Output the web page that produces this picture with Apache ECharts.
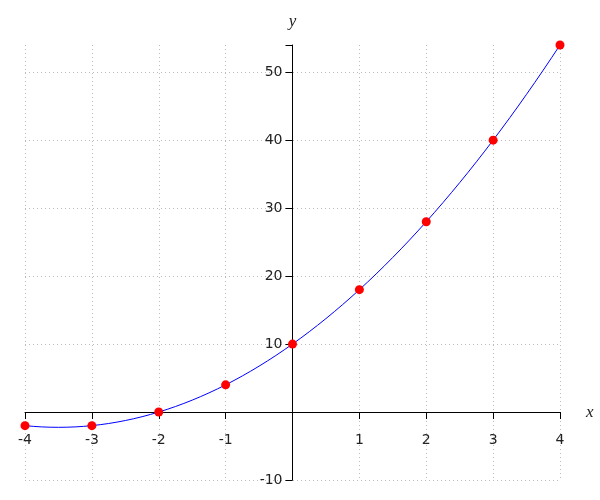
<!DOCTYPE html>
<html>
<head>
<meta charset="utf-8">
<script src="https://cdn.jsdelivr.net/npm/echarts@6/dist/echarts.min.js"></script>
<style>html,body{margin:0;padding:0;background:#fff}#c{width:600px;height:500px}</style>
</head>
<body>
<div id="c"></div>
<script>
var xValues = [-4, -3, -2, -1, 0, 1, 2, 3, 4];
var yValues = [-2, -2, 0, 4, 10, 18, 28, 40, 54];
var xTickLabels = [-4, -3, -2, -1, 1, 2, 3, 4];
var yTickLabels = [-10, 10, 20, 30, 40, 50];

var pts = xValues.map(function (x, i) { return [x, yValues[i]]; });

function curvePath(api) {
  var p = pts.map(function (d) { return api.coord(d); });
  var n = p.length;
  var t = [];
  for (var i = 0; i < n; i++) {
    var tx, ty;
    if (i === 0) { tx = (-3 * p[0][0] + 4 * p[1][0] - p[2][0]) / 2; ty = (-3 * p[0][1] + 4 * p[1][1] - p[2][1]) / 2; }
    else if (i === n - 1) { tx = (3 * p[n-1][0] - 4 * p[n-2][0] + p[n-3][0]) / 2; ty = (3 * p[n-1][1] - 4 * p[n-2][1] + p[n-3][1]) / 2; }
    else { tx = (p[i+1][0] - p[i-1][0]) / 2; ty = (p[i+1][1] - p[i-1][1]) / 2; }
    t.push([tx, ty]);
  }
  var d = 'M' + p[0][0] + ' ' + p[0][1];
  for (var j = 0; j < n - 1; j++) {
    d += ' C' + (p[j][0] + t[j][0] / 3) + ' ' + (p[j][1] + t[j][1] / 3) + ' ' +
         (p[j+1][0] - t[j+1][0] / 3) + ' ' + (p[j+1][1] - t[j+1][1] / 3) + ' ' +
         p[j+1][0] + ' ' + p[j+1][1];
  }
  return d;
}

function fmt(list) {
  return function (v) { return list.indexOf(v) >= 0 ? String(v) : ''; };
}

var GRID = {left: 25, right: 40, top: 45, bottom: 20};
var chart = echarts.init(document.getElementById('c'), null, {renderer: 'canvas'});
var labelStyle = {color: '#222', fontSize: 14, fontFamily: 'DejaVu Sans'};
var nameStyle = {fontFamily: 'Liberation Serif', fontStyle: 'italic', fontSize: 17, color: '#222'};
chart.setOption({
  animation: false,
  backgroundColor: '#fff',
  grid: {left: GRID.left, right: GRID.right, top: GRID.top, bottom: GRID.bottom, containLabel: false, outerBoundsMode: 'none'},
  xAxis: {
    type: 'value', min: -4, max: 4, interval: 1,
    name: 'x', nameLocation: 'end', nameGap: 26,
    nameTextStyle: Object.assign({verticalAlign: 'middle', padding: [6, 0, 0, 0]}, nameStyle),
    axisLine: {show: true, onZero: false, lineStyle: {color: '#000', width: 1}},
    axisTick: {show: true, length: 7, lineStyle: {color: '#000'}},
    axisLabel: Object.assign({margin: 21, formatter: fmt(xTickLabels), showMinLabel: true, showMaxLabel: true, hideOverlap: false}, labelStyle),
    splitLine: {show: true, showMinLine: true, showMaxLine: true, lineStyle: {color: '#bbb', type: [1, 3], width: 1}}
  },
  yAxis: {
    type: 'value', min: -10, max: 54, interval: 10,
    name: 'y', nameLocation: 'end', nameGap: 15,
    nameTextStyle: Object.assign({align: 'center'}, nameStyle),
    axisLine: {show: true, onZero: false, lineStyle: {color: '#000', width: 1}},
    axisTick: {show: true, length: 7, lineStyle: {color: '#000'}},
    axisLabel: Object.assign({margin: 10, formatter: fmt(yTickLabels), hideOverlap: false}, labelStyle),
    splitLine: {show: true, showMinLine: true, showMaxLine: false, lineStyle: {color: '#bbb', type: [1, 3], width: 1}}
  },
  series: [
    {
      type: 'custom', data: [pts[0]], z: 2, silent: true,
      renderItem: function (params, api) {
        return {type: 'path', shape: {pathData: curvePath(api)}, style: {fill: null, stroke: '#0000ff', lineWidth: 1}};
      }
    },
    {
      type: 'scatter', data: pts, symbol: 'circle', symbolSize: 9,
      itemStyle: {color: '#ff0000', opacity: 1}, z: 3
    }
  ]
});
// move both axes (line, ticks, labels) onto the origin
var origin = chart.convertToPixel({gridIndex: 0}, [0, 0]);
var gridBottomPx = chart.getHeight() - GRID.bottom;
chart.setOption({
  xAxis: {offset: -(gridBottomPx - origin[1])},
  yAxis: {offset: -(origin[0] - GRID.left)}
});
</script>
</body>
</html>
